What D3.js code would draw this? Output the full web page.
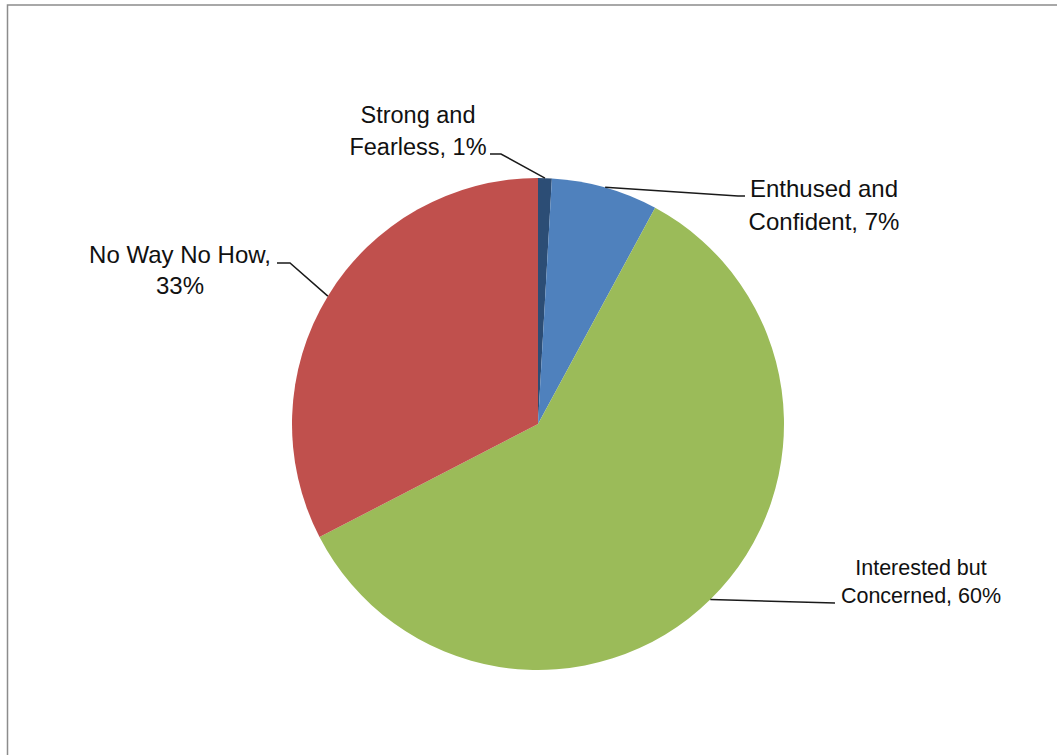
<!DOCTYPE html>
<html>
<head>
    <meta charset="utf-8">
    <title>pie</title>
    <script type="text/javascript" src="https://cdn.jsdelivr.net/npm/d3@7"></script>
    <style>
      body { margin: 0; background: #fff; }
      text { font-family: "Liberation Sans", Arial, sans-serif; fill: #111; }
    </style>
</head>
<body>
<script type="text/javascript">

        var categories = ["Strong and Fearless", "Enthused and Confident", "Interested but Concerned", "No Way No How"]
        var shares = [0.9, 7.0, 59.5, 32.6]
        var labelLines = [["Strong and", "Fearless, 1%"], ["Enthused and", "Confident, 7%"], ["Interested but", "Concerned, 60%"], ["No Way No How,", "33%"]]
        var colors = ["#2C4D75", "#4F81BD", "#9BBB59", "#C0504D"]

        var width = 1057
        var height = 755
        var cx = 538, cy = 424, radius = 246

        // where each label sits: text centre, first baseline, line gap, font size, leader elbow points
        var layout = [
            {x: 418, y: 123, gap: 32, size: 23.5, elbow: [[501, 154], [490, 154]]},
            {x: 824, y: 197, gap: 33, size: 24, elbow: [[738, 196], [745, 196]]},
            {x: 921, y: 575, gap: 28, size: 21.5, elbow: [[835, 603]]},
            {x: 180, y: 263, gap: 31, size: 24, elbow: [[290, 263], [277, 263]]}
        ]

        var svg = d3.select("body").append("svg").attr("width", width).attr("height", height)

        svg.append("rect")
            .attr("x", 7.5).attr("y", 5)
            .attr("width", 1200).attr("height", 900)
            .attr("fill", "none")
            .attr("stroke", "#8c8c8c")
            .attr("stroke-width", 1.5)

        var pie = d3.pie().sort(null).value(function(d) { return d })
        var arcs = pie(shares)
        var arc = d3.arc().innerRadius(0).outerRadius(radius)

        var g = svg.append("g").attr("transform", "translate(" + cx + "," + cy + ")")

        g.selectAll("path")
            .data(arcs)
            .enter()
            .append("path")
            .attr("d", arc)
            .attr("fill", function(d, i) { return colors[i] })

        // leader lines start on the rim at each slice's middle angle
        arcs.forEach(function(a, i) {
            var mid = (a.startAngle + a.endAngle) / 2
            var pts = [[cx + radius * Math.sin(mid), cy - radius * Math.cos(mid)]].concat(layout[i].elbow)
            svg.append("path")
                .attr("d", d3.line()(pts))
                .attr("fill", "none")
                .attr("stroke", "#1a1a1a")
                .attr("stroke-width", 1.5)

            var t = svg.append("text")
                .attr("text-anchor", "middle")
                .attr("font-size", layout[i].size)
            labelLines[i].forEach(function(line, j) {
                t.append("tspan")
                    .attr("x", layout[i].x)
                    .attr("y", layout[i].y + j * layout[i].gap)
                    .text(line)
            })
        })
</script>
</body>
</html>
